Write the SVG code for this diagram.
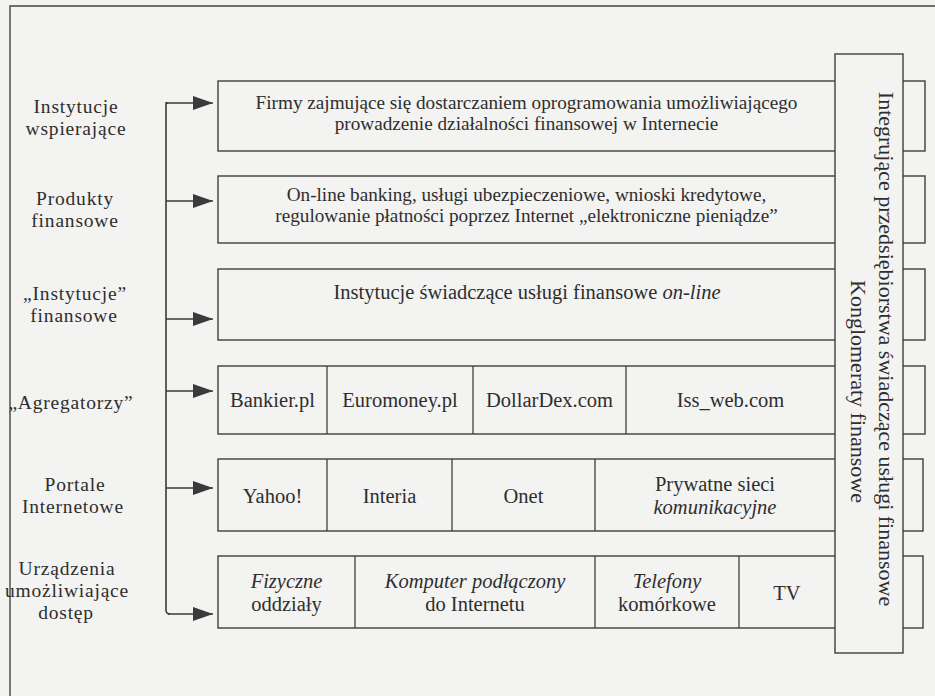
<svg xmlns="http://www.w3.org/2000/svg" width="935" height="696" viewBox="0 0 935 696">
<style>
  .bg { fill: #f3f3f1; }
  .frame { fill: none; stroke: #444; stroke-width: 1.4; }
  .box { fill: none; stroke: #3e3e3e; stroke-width: 1.4; }
  .vbox { fill: #f3f3f1; stroke: #3e3e3e; stroke-width: 1.4; }
  .div { stroke: #3e3e3e; stroke-width: 1.3; }
  .conn { fill: none; stroke: #3a3a3a; stroke-width: 1.6; }
  text { font-family: "Liberation Serif", "Times New Roman", serif; fill: #2e2e2e; text-anchor: middle; }
  .t { font-size: 19.2px; }
  .p { font-size: 20.5px; }
  .lbl { font-size: 19.5px; letter-spacing: 0.8px; }
  .v { font-size: 22px; }
  .i { font-style: italic; }
</style>
<defs>
  <marker id="arr" markerUnits="userSpaceOnUse" markerWidth="22" markerHeight="16" refX="20" refY="7" orient="auto">
    <path d="M0,0 L20,7 L0,14 Z" fill="#3a3a3a"/>
  </marker>
</defs>
<rect class="bg" x="0" y="0" width="935" height="696"/>
<path class="frame" d="M10,700 V6 H940"/>

<g id="labels">
  <g id="lbl-wspierajace"><text class="lbl" x="76" y="113">Instytucje</text><text class="lbl" x="76" y="135">wspierające</text></g>
  <g id="lbl-produkty"><text class="lbl" x="75" y="205">Produkty</text><text class="lbl" x="75" y="227">finansowe</text></g>
  <g id="lbl-instytucje"><text class="lbl" x="75" y="300">„Instytucje”</text><text class="lbl" x="74" y="322">finansowe</text></g>
  <g id="lbl-agregatorzy"><text class="lbl" x="71" y="409">„Agregatorzy”</text></g>
  <g id="lbl-portale"><text class="lbl" x="75" y="491">Portale</text><text class="lbl" x="73" y="513">Internetowe</text></g>
  <g id="lbl-urzadzenia"><text class="lbl" x="67" y="575">Urządzenia</text><text class="lbl" x="67" y="597">umożliwiające</text><text class="lbl" x="66" y="619">dostęp</text></g>
</g>

<g id="connectors">
  <path class="conn" d="M168,103 H166 V610 Q166,614 170,614"/>
  <line class="conn" x1="166" y1="103" x2="213" y2="103" marker-end="url(#arr)"/>
  <line class="conn" x1="166" y1="201" x2="213" y2="201" marker-end="url(#arr)"/>
  <line class="conn" x1="166" y1="319" x2="213" y2="319" marker-end="url(#arr)"/>
  <line class="conn" x1="166" y1="391" x2="213" y2="391" marker-end="url(#arr)"/>
  <line class="conn" x1="166" y1="488" x2="213" y2="488" marker-end="url(#arr)"/>
  <line class="conn" x1="168" y1="614" x2="213" y2="614" marker-end="url(#arr)"/>
</g>

<g id="box-firmy">
  <rect class="box" x="218" y="81" width="707" height="70"/>
  <text class="t" x="526.5" y="108.5">Firmy zajmujące się dostarczaniem oprogramowania umożliwiającego</text>
  <text class="t" x="526.5" y="130">prowadzenie działalności finansowej w Internecie</text>
</g>
<g id="box-produkty">
  <rect class="box" x="218" y="176" width="707" height="67"/>
  <text class="t" x="526.5" y="200.5">On-line banking, usługi ubezpieczeniowe, wnioski kredytowe,</text>
  <text class="t" x="526.5" y="222">regulowanie płatności poprzez Internet „elektroniczne pieniądze”</text>
</g>
<g id="box-instytucje">
  <rect class="box" x="218" y="269" width="707" height="71"/>
  <text class="p" x="527" y="299">Instytucje świadczące usługi finansowe <tspan class="i">on-line</tspan></text>
</g>
<g id="box-agregatorzy">
  <rect class="box" x="218" y="366" width="707" height="68"/>
  <line class="div" x1="327" y1="366" x2="327" y2="434"/>
  <line class="div" x1="473" y1="366" x2="473" y2="434"/>
  <line class="div" x1="626" y1="366" x2="626" y2="434"/>
  <text class="p" x="272.5" y="407">Bankier.pl</text>
  <text class="p" x="400" y="407">Euromoney.pl</text>
  <text class="p" x="549.5" y="407">DollarDex.com</text>
  <text class="p" x="730.5" y="407">Iss_web.com</text>
</g>
<g id="box-portale">
  <rect class="box" x="218" y="459" width="705" height="72"/>
  <line class="div" x1="327" y1="459" x2="327" y2="531"/>
  <line class="div" x1="452" y1="459" x2="452" y2="531"/>
  <line class="div" x1="595" y1="459" x2="595" y2="531"/>
  <text class="p" x="272.5" y="503">Yahoo!</text>
  <text class="p" x="389.5" y="503">Interia</text>
  <text class="p" x="523.5" y="503">Onet</text>
  <text class="p" x="715" y="491">Prywatne sieci</text>
  <text class="p i" x="715" y="514">komunikacyjne</text>
</g>
<g id="box-urzadzenia">
  <rect class="box" x="218" y="556" width="705" height="72"/>
  <line class="div" x1="355" y1="556" x2="355" y2="628"/>
  <line class="div" x1="595" y1="556" x2="595" y2="628"/>
  <line class="div" x1="739" y1="556" x2="739" y2="628"/>
  <text class="p i" x="286.5" y="588">Fizyczne</text>
  <text class="p" x="286.5" y="611">oddziały</text>
  <text class="p i" x="475" y="588">Komputer podłączony</text>
  <text class="p" x="475" y="611">do Internetu</text>
  <text class="p i" x="667" y="588">Telefony</text>
  <text class="p" x="667" y="611">komórkowe</text>
  <text class="p" x="787" y="600">TV</text>
</g>

<g id="box-konglomeraty">
  <rect class="vbox" x="835" y="54" width="68" height="599"/>
  <text class="v" transform="translate(879,349) rotate(90)">Integrujące przedsiębiorstwa świadczące usługi finansowe</text>
  <text class="v" transform="translate(851,391.5) rotate(90)">Konglomeraty finansowe</text>
</g>
</svg>
